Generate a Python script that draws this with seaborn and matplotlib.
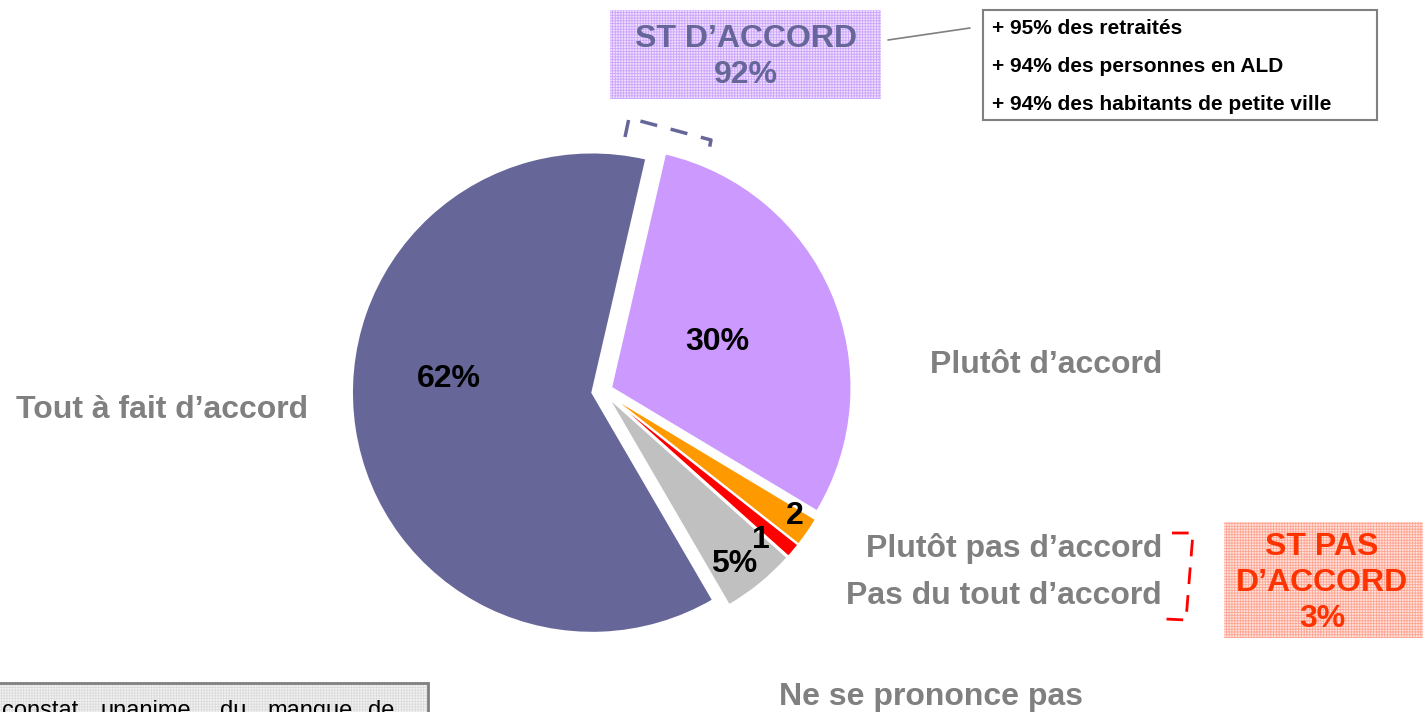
import numpy as np
import matplotlib.pyplot as plt
import matplotlib.patches as mpatches
import seaborn as sns

# data (clockwise from the top)
categories = ["Plutôt d’accord", "Plutôt pas d’accord", "Pas du tout d’accord",
              "Ne se prononce pas", "Tout à fait d’accord"]
values = [30, 2, 1, 5, 62]
pct_labels = ["30%", "2", "1", "5%", "62%"]
colors = ["#CC99FF", "#FF9900", "#FF0000", "#C0C0C0", "#666699"]

st_accord = 92
st_pas_accord = 3
details = ["+ 95% des retraités", "+ 94% des personnes en ALD",
           "+ 94% des habitants de petite ville"]
note_words = ["constat", "unanime", "du", "manque", "de"]

sns.set_theme(style="white")
plt.rcParams['font.family'] = ['Liberation Sans', 'DejaVu Sans']
plt.rcParams['hatch.linewidth'] = 0.6

W, H = 1423, 712
fig = plt.figure(figsize=(W / 100, H / 100), dpi=100)
ax = fig.add_axes([0, 0, 1, 1])


def Y(y):
    # image row -> data y
    return H - y


wedges, _ = ax.pie(values, colors=colors, startangle=77, counterclock=False,
                   radius=240, center=(603, Y(391)),
                   explode=[9, 8.5, 8.5, 8.5, 11],
                   wedgeprops=dict(edgecolor='white', linewidth=1.2), frame=True)
ax.set_xlim(0, W)
ax.set_ylim(0, H)
ax.set_aspect('equal')
ax.axis('off')

# value labels inside the slices
place = [(0.48, 0), (0.92, 1.5), (0.87, -3.5), (0.87, -2), (0.6, -14)]
for w, lab, (f, dt) in zip(wedges, pct_labels, place):
    th = np.deg2rad((w.theta1 + w.theta2) / 2 + dt)
    cx, cy = w.center
    ax.text(cx + f * w.r * np.cos(th), cy + f * w.r * np.sin(th), lab,
            ha='center', va='center', fontsize=23, fontweight='bold', color='black')

# category labels
grey = '#808080'
lab_pos = [(1046, 365, 'center'), (1162, 548, 'right'), (1162, 596, 'right'),
           (931, 697, 'center'), (162, 410, 'center')]
for cat, (x, y, ha) in zip(categories, lab_pos):
    ax.text(x, Y(y), cat, ha=ha, va='center', fontsize=23, fontweight='bold', color=grey)


def hatched_box(x0, y0, x1, y1, face, hatch_col, edge=None, lw=0):
    ax.add_patch(mpatches.Rectangle((x0, Y(y1)), x1 - x0, y1 - y0, facecolor=face,
                                    edgecolor='none', zorder=1))
    ax.add_patch(mpatches.Rectangle((x0, Y(y1)), x1 - x0, y1 - y0, facecolor='none',
                                    edgecolor=hatch_col, hatch='++++++', linewidth=0, zorder=1))
    if edge:
        ax.add_patch(mpatches.Rectangle((x0, Y(y1)), x1 - x0, y1 - y0, facecolor='none',
                                        edgecolor=edge, linewidth=lw, zorder=2))


# ST D'ACCORD box
hatched_box(610, 10, 881, 99, '#EEDFFF', '#CDA6FA')
ax.text(746, Y(57), f"ST D’ACCORD\n{st_accord}%", ha='center', va='center', fontsize=23,
        fontweight='bold', color='#666699', linespacing=1.27, zorder=3)
ax.plot([888, 970], [Y(40), Y(28)], color=grey, lw=1.2)

# detail box
ax.add_patch(mpatches.Rectangle((983, Y(120)), 394, 110, facecolor='white',
                                edgecolor=grey, linewidth=1.5))
for txt, y in zip(details, [28, 67, 104]):
    ax.text(992, Y(y), txt, ha='left', va='center', fontsize=15, fontweight='bold',
            color='black')

# dashed bracket over the agree slices
ax.plot([625, 629, 711, 707], [Y(137), Y(118), Y(140), Y(160)], color='#666699',
        lw=2.5, dashes=(5, 4))

# ST PAS D'ACCORD box and bracket
hatched_box(1224, 522, 1423, 638, '#FFE3DC', '#FFA594')
ax.text(1322, Y(583), f"ST PAS\nD’ACCORD\n{st_pas_accord}%", ha='center', va='center',
        fontsize=23, fontweight='bold', color='#FF3300', linespacing=1.25, zorder=3)
ax.plot([1172, 1193, 1186, 1165], [Y(533), Y(533), Y(620), Y(619)], color='#FF0000',
        lw=2, dashes=(6, 4))

# note box at the bottom left (cut by the frame, as in the original)
hatched_box(-5, 683, 428, 760, '#F2F2F2', '#DCDCDC', edge=grey, lw=2)
for word, x in zip(note_words, [2, 100, 220, 267, 368]):
    ax.text(x, Y(717), word, ha='left', va='baseline', fontsize=17, color='black', zorder=3)

fig.savefig('out.png', dpi=100)
